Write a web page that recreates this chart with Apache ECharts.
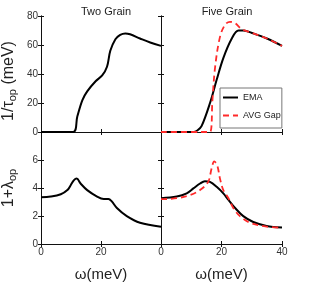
<!DOCTYPE html>
<html><head><meta charset="utf-8">
<script src="https://cdn.jsdelivr.net/npm/echarts@6/dist/echarts.min.js"></script>
<style>html,body{margin:0;padding:0;background:#fff}#c{width:332px;height:283px}</style>
</head><body><div id="c"></div>
<script>
// ---- data ----
var panelTitles = ['Two Grain', 'Five Grain'];
var seriesNames = ['EMA', 'AVG Gap'];
var xTicks = [0, 20, 40];
var tauTicks = [0, 20, 40, 60, 80];
var lamTicks = [0, 2, 4, 6, 8];

var twoTauW = [0, 10.7, 12.1, 13.8, 15.4, 18.2, 20.4, 22, 23.1, 24.8, 26.4, 28.1, 29.7, 33, 36.4, 40];
var twoTauV = [0, 0, 10.7, 22, 28, 35, 39, 45, 56, 64, 67, 68, 67.4, 64.5, 61.7, 59.4];

var fiveEmaTauW = [0, 10.7, 12, 13.4, 16.2, 18.4, 20.6, 23.4, 25.6, 27.2, 30.5, 35, 40];
var fiveEmaTauV = [0, 0, 1, 4, 20, 36, 51, 64.5, 70, 70, 68, 64.5, 59.4];
var fiveAvgTauW = [0, 16.2, 17, 17.9, 19.5, 21.2, 22.8, 24.5, 26.7, 30.5, 35, 40];
var fiveAvgTauV = [0, 0, 22, 45, 65.6, 74, 76, 75, 71, 68, 64.5, 59.4];

var twoLamW = [0, 3.3, 6.6, 8.8, 9.9, 11, 11.9, 13.2, 15.4, 18.7, 20.9, 22.5, 23.6, 25.3, 28.6, 33, 40];
var twoLamV = [3.34, 3.39, 3.55, 3.85, 4.2, 4.56, 4.67, 4.32, 3.85, 3.39, 3.22, 3.22, 3.04, 2.57, 1.99, 1.52, 1.24];

var fiveEmaLamW = [0, 5.2, 8.5, 10.7, 12.9, 14.5, 16.2, 18.4, 20.6, 22.3, 24.5, 27.2, 30.5, 34.9, 40];
var fiveEmaLamV = [3.27, 3.39, 3.62, 3.97, 4.32, 4.49, 4.44, 4.09, 3.62, 3.15, 2.57, 1.99, 1.57, 1.29, 1.17];
var fiveAvgLamW = [0, 5.2, 9.6, 12.9, 15.6, 16.7, 17.6, 18.6, 19.5, 20.6, 22.3, 23.9, 26.1, 29.4, 34.9, 40];
var fiveAvgLamV = [3.2, 3.27, 3.5, 3.85, 4.44, 5.37, 5.9, 5.6, 4.67, 3.85, 3.27, 2.57, 1.99, 1.52, 1.24, 1.17];

function pairs(w, v) { return w.map(function (x, i) { return [x, v[i]]; }); }

var chart = echarts.init(document.getElementById('c'), null, {renderer: 'canvas'});
var F = 'Liberation Sans, Arial, sans-serif';
var grids = [
  {left: 40, top: 16, width: 121, height: 116},
  {left: 161, top: 16, width: 121, height: 116},
  {left: 40, top: 132, width: 121, height: 115},
  {left: 161, top: 132, width: 121, height: 115}
];
var xAxes = [], yAxes = [];
var lineCol = '#111';
for (var g = 0; g < 4; g++) {
  var isBottom = g >= 2, isLeft = g % 2 === 0;
  var yTicks = isBottom ? lamTicks : tauTicks;
  xAxes.push({
    gridIndex: g, type: 'value', min: xTicks[0], max: xTicks[xTicks.length - 1], interval: 20,
    position: 'bottom',
    axisLine: {lineStyle: {color: lineCol, width: 1}},
    axisTick: {inside: true, length: 3, lineStyle: {color: lineCol}},
    splitLine: {show: false},
    axisLabel: {show: isBottom, fontSize: 10, color: '#333', fontFamily: F, margin: 3,
      formatter: function (v) { return v; }},
    name: isBottom ? 'ω(meV)' : '', nameLocation: 'middle', nameGap: 23,
    nameTextStyle: {fontSize: 15, color: '#222', fontFamily: F}
  });
  xAxes.push({
    gridIndex: g, type: 'value', min: xTicks[0], max: xTicks[xTicks.length - 1], interval: 20,
    position: 'top',
    axisLine: {lineStyle: {color: lineCol, width: 1}},
    axisTick: {inside: true, length: 3, lineStyle: {color: lineCol}},
    splitLine: {show: false}, axisLabel: {show: false}
  });
  var yName = '';
  if (isLeft) yName = isBottom ? '1+λ{sub|op}' : '1/τ{sub|op} (meV)';
  yAxes.push({
    gridIndex: g, type: 'value', min: yTicks[0], max: yTicks[yTicks.length - 1], interval: yTicks[1] - yTicks[0],
    position: 'left',
    axisLine: {lineStyle: {color: lineCol, width: 1}},
    axisTick: {inside: true, length: 3, lineStyle: {color: lineCol}},
    splitLine: {show: false},
    axisLabel: {show: isLeft, fontSize: 10, color: '#333', fontFamily: F, margin: 3,
      formatter: (function (top) { return function (v) { return (top !== null && v === top) ? '' : v; }; })(isBottom ? 8 : null)},
    name: yName, nameLocation: 'middle', nameGap: 24, nameRotate: 90,
    nameTextStyle: {fontSize: 16, color: '#222', fontFamily: F,
      padding: isBottom ? [0, 0, 0, 0] : [0, 14, 0, 0],
      rich: {sub: {fontSize: 11, color: '#222', fontFamily: F, padding: [0, 0, -8, 0]}}}
  });
  yAxes.push({
    gridIndex: g, type: 'value', min: yTicks[0], max: yTicks[yTicks.length - 1], interval: yTicks[1] - yTicks[0],
    position: 'right',
    axisLine: {lineStyle: {color: lineCol, width: 1}},
    axisTick: {inside: true, length: 3, lineStyle: {color: lineCol}},
    splitLine: {show: false}, axisLabel: {show: false}
  });
}
xAxes[4].axisLabel.formatter = function (v) { return v === 40 ? '' : v; };

function blackS(name, xi, yi, d) {
  return {name: name, type: 'line', xAxisIndex: xi, yAxisIndex: yi, data: d, symbol: 'none', showSymbol: false,
    smooth: 0.35, lineStyle: {color: '#000', width: 2}, itemStyle: {color: '#000'}, z: 3};
}
function redS(name, xi, yi, d) {
  return {name: name, type: 'line', xAxisIndex: xi, yAxisIndex: yi, data: d, symbol: 'none', showSymbol: false,
    smooth: 0.35, lineStyle: {color: '#ff2a2a', width: 1.8, type: [6, 4]}, itemStyle: {color: '#ff2a2a'}, z: 4};
}

var option = {
  animation: false,
  backgroundColor: '#fff',
  title: [
    {text: panelTitles[0], left: 101, top: 1, textAlign: 'center', textStyle: {fontSize: 11, fontWeight: 'normal', color: '#222', fontFamily: F}},
    {text: panelTitles[1], left: 222, top: 1, textAlign: 'center', textStyle: {fontSize: 11, fontWeight: 'normal', color: '#222', fontFamily: F}}
  ],
  grid: grids,
  xAxis: xAxes,
  yAxis: yAxes,
  legend: {
    data: seriesNames, orient: 'vertical', left: 220, top: 88, itemWidth: 15, itemHeight: 8, itemGap: 9,
    padding: [5, 1, 8, 2], borderColor: '#777', borderWidth: 1, backgroundColor: '#fff',
    itemStyle: {opacity: 0},
    textStyle: {fontSize: 9, color: '#222', fontFamily: F}
  },
  series: [
    blackS('EMA', 0, 0, pairs(twoTauW, twoTauV)),
    redS('AVG Gap', 2, 2, pairs(fiveAvgTauW, fiveAvgTauV)),
    blackS('EMA', 2, 2, pairs(fiveEmaTauW, fiveEmaTauV)),
    blackS('EMA', 4, 4, pairs(twoLamW, twoLamV)),
    redS('AVG Gap', 6, 6, pairs(fiveAvgLamW, fiveAvgLamV)),
    blackS('EMA', 6, 6, pairs(fiveEmaLamW, fiveEmaLamV))
  ]
};
chart.setOption(option);
</script></body></html>
